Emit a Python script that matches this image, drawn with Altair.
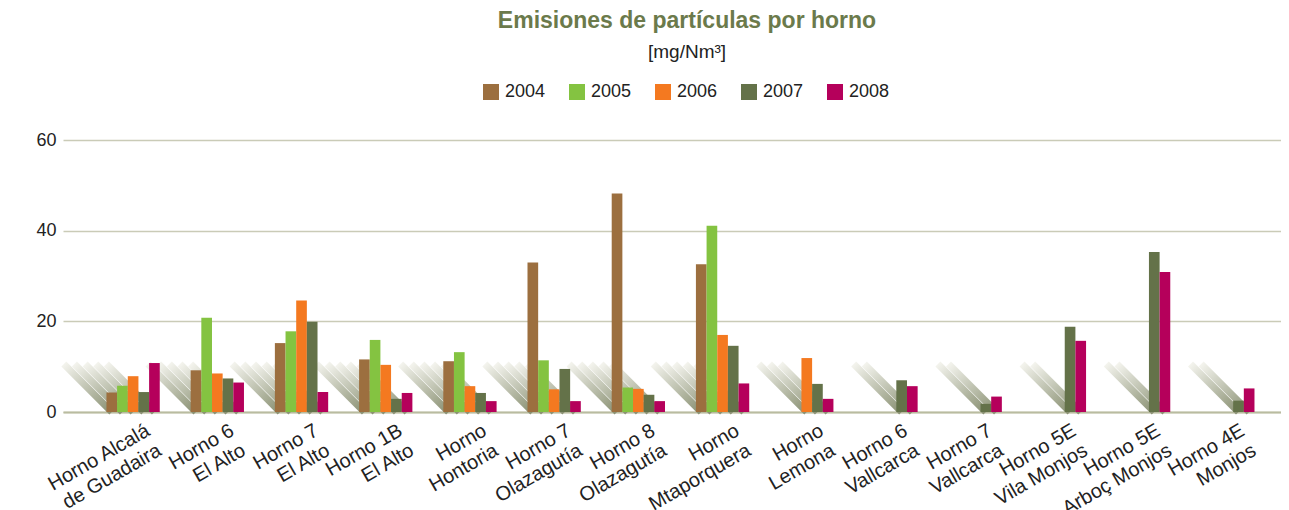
import altair as alt
import pandas as pd

hornos = [
    "Horno Alcalá|de Guadaira", "Horno 6|El Alto", "Horno 7|El Alto", "Horno 1B|El Alto",
    "Horno|Hontoria", "Horno 7|Olazagutía", "Horno 8|Olazagutía", "Horno|Mtaporquera",
    "Horno|Lemona", "Horno 6|Vallcarca", "Horno 7|Vallcarca", "Horno 5E|Vila Monjos",
    "Horno 5E|Arboç Monjos", "Horno 4E|Monjos",
]
years = ["2004", "2005", "2006", "2007", "2008"]
colors = ["#9c6f3f", "#84c341", "#f47920", "#647249", "#b5005b"]

v2004 = [4.3, 9.2, 15.2, 11.6, 11.2, 33.0, 48.2, 32.6, None, None, None, None, None, None]
v2005 = [5.8, 20.8, 17.8, 15.9, 13.2, 11.4, 5.4, 41.1, None, None, None, None, None, None]
v2006 = [7.9, 8.5, 24.6, 10.4, 5.7, 5.0, 5.1, 17.0, 11.9, None, None, None, None, None]
v2007 = [4.4, 7.4, 19.9, 2.9, 4.2, 9.5, 3.8, 14.6, 6.2, 7.0, 1.8, 18.8, 35.3, 2.5]
v2008 = [10.8, 6.5, 4.4, 4.2, 2.4, 2.4, 2.4, 6.3, 2.9, 5.7, 3.4, 15.7, 30.9, 5.2]

series = [v2004, v2005, v2006, v2007, v2008]
rows = []
for y, vals in zip(years, series):
    for h, v in zip(hornos, vals):
        if v is not None:
            rows.append({"horno": h, "year": y, "value": v})
df = pd.DataFrame(rows)

FONT = "Liberation Sans"
W, H = 1218, 272
P_INNER, P_OUTER, ALIGN = 0.367, 0.4155, 0.621
step = W / (len(hornos) - P_INNER + 2 * P_OUTER)
bar_w = step * (1 - P_INNER) / len(years)
SHADOW = 48  # pixel length of the 45-degree floor shadow behind each bar

xscale = alt.Scale(paddingInner=P_INNER, paddingOuter=P_OUTER, align=ALIGN)
xaxis = alt.Axis(
    labelAngle=-30, labelAlign="right", labelBaseline="top",
    labelExpr="split(datum.label, '|')", labelFontSize=20,
    labelLineHeight=23, labelColor="#222222", labelPadding=8, labelOffset=10,
    ticks=False, domain=True, domainColor="#b9bca0", domainWidth=2,
    grid=False, labelFont=FONT,
)
yaxis = alt.Axis(
    values=[0, 20, 40, 60], grid=True, gridColor="#cacbb7", gridWidth=1.5,
    domain=False, ticks=False, labelFontSize=18, labelPadding=7,
    labelColor="#222222", labelFont=FONT,
)

gradient = {
    "gradient": "linear", "x1": 0, "y1": 0, "x2": 1, "y2": 1,
    "stops": [{"offset": 0, "color": "#f4f4ee"}, {"offset": 1, "color": "#899072"}],
}

base = alt.Chart(df)

shadows = []
for j, yr in enumerate(years):
    off = (j - (len(years) - 1) / 2) * bar_w
    shadows.append(
        base.transform_filter(alt.datum.year == yr).mark_rule(
            stroke=gradient, strokeWidth=bar_w * 0.66, strokeCap="butt",
            xOffset=off - SHADOW, x2Offset=off, yOffset=-SHADOW, y2Offset=0,
        ).encode(
            x=alt.X("horno:N", sort=hornos, title=None, scale=xscale, axis=xaxis),
            x2=alt.X2("horno:N"),
            y=alt.Y("v0:Q", title=None, scale=alt.Scale(domain=[0, 60]), axis=yaxis),
            y2=alt.Y2("v0:Q"),
        ).transform_calculate(v0="0")
    )

bars = base.mark_bar().encode(
    x=alt.X("horno:N", sort=hornos, title=None, scale=xscale, axis=xaxis),
    xOffset=alt.XOffset("year:N", sort=years, scale=alt.Scale(paddingInner=0, paddingOuter=0)),
    y=alt.Y("value:Q", title=None, scale=alt.Scale(domain=[0, 60]), axis=yaxis),
    color=alt.Color(
        "year:N", sort=years, title=None,
        scale=alt.Scale(domain=years, range=colors),
        legend=alt.Legend(
            orient="none", direction="horizontal", legendX=419, legendY=-57,
            symbolType="square", symbolSize=256, symbolStrokeWidth=0,
            labelFontSize=18, labelFont=FONT, labelColor="#222222",
            labelOffset=5, columnPadding=22,
        ),
    ),
)

chart = alt.layer(*shadows, bars).properties(
    width=W, height=H,
    padding={"left": 27, "top": 2, "right": 0, "bottom": 5},
    title=alt.TitleParams(
        "Emisiones de partículas por horno", subtitle="[mg/Nm³]",
        font=FONT, fontSize=23, fontWeight="bold", color="#6b7a4b",
        subtitleFont=FONT, subtitleFontSize=19, subtitleColor="#222222",
        subtitlePadding=10, anchor="middle", frame="group", dx=15, offset=21,
    ),
).configure_view(stroke=None)

chart.save("out.html", embed_options={"renderer": "svg", "actions": False})
